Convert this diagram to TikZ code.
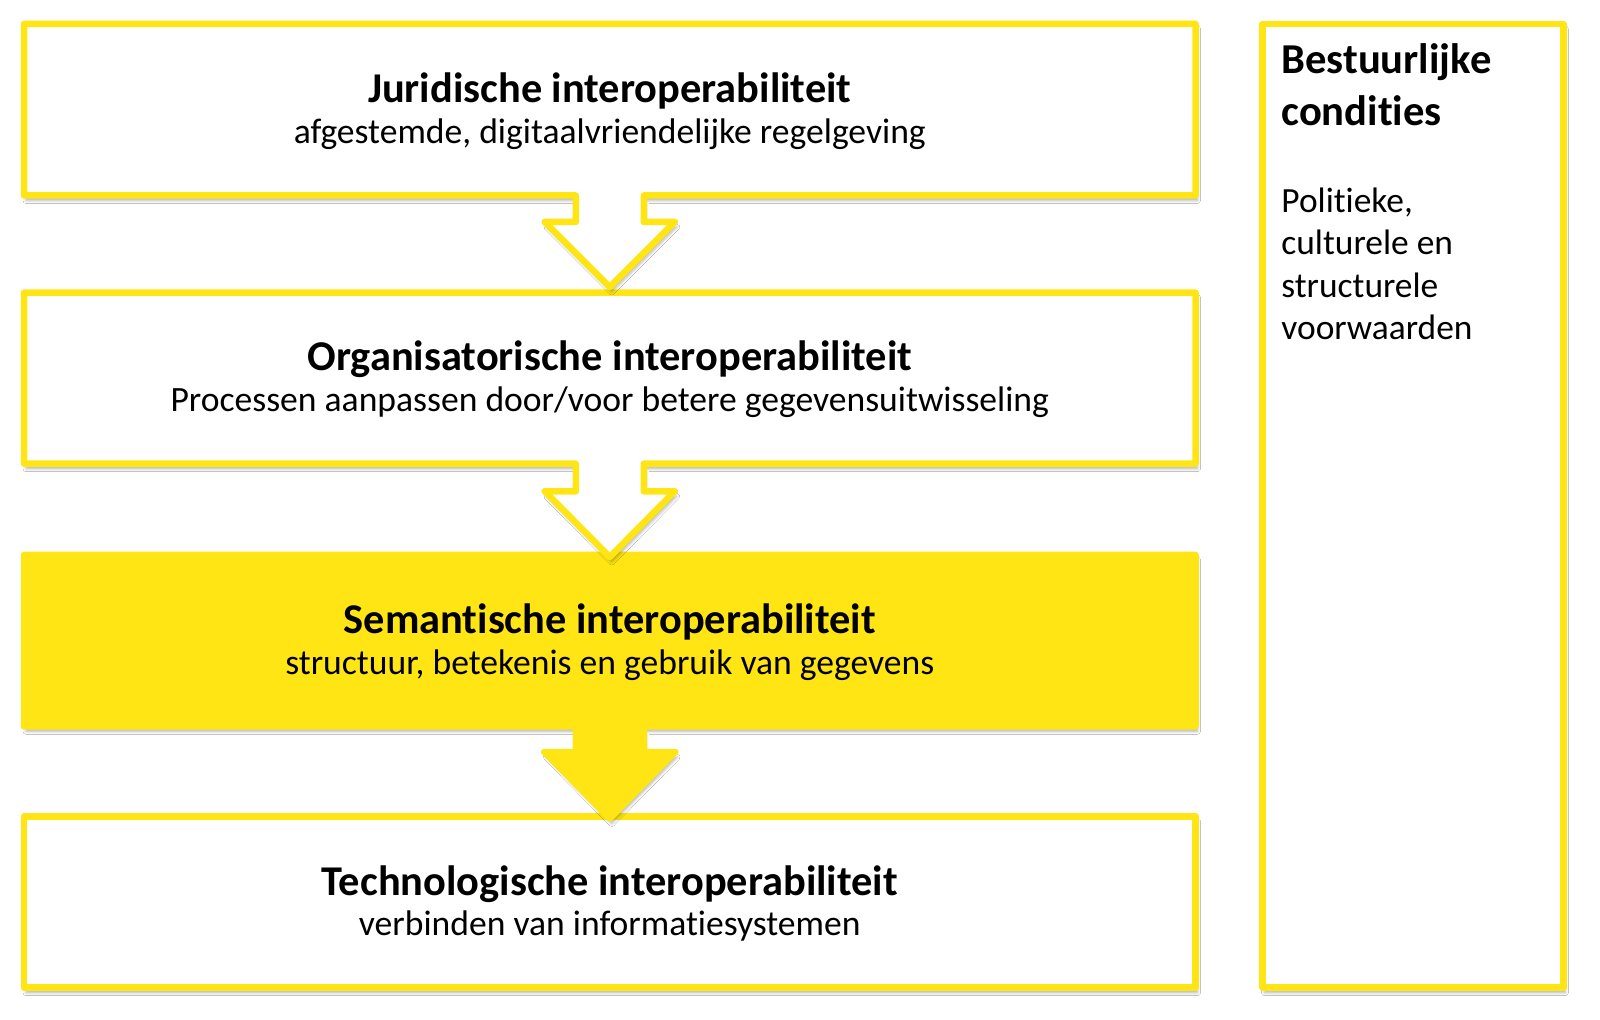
\documentclass[tikz,border=0pt]{standalone}
\usepackage{fontspec}
\setmainfont{Carlito}[Ligatures=NoCommon]
\usetikzlibrary{shadows,shadows.blur}
\definecolor{ryel}{HTML}{FFE514}
\tikzset{
  x=0.5pt, y=-0.5pt,
  tier/.style={draw=ryel, line width=3.25pt, line join=round, fill=white,
    blur shadow={shadow xshift=1pt, shadow yshift=-2.5pt, shadow blur radius=1.5pt, shadow opacity=30}},
  tierfill/.style={tier, fill=ryel},
  ttl/.style={inner sep=0pt, anchor=base, font=\fontsize{21.2}{25}\selectfont\bfseries},
  sub/.style={inner sep=0pt, anchor=base, font=\fontsize{17.8}{22}\selectfont},
}
\begin{document}
\begin{tikzpicture}
\useasboundingbox[fill=white] (0,0) rectangle (1600,1020);
% tier 4
\path[tier] (24,816.3) -- (1195.5,816.3) -- (1195.5,987.7) -- (24,987.7) -- cycle;
% tier 3 with filled arrow
\path[tierfill] (24,555) -- (1195.5,555) -- (1195.5,726.3) -- (643.75,726.3) -- (643.75,752) -- (675.25,752) -- (609.75,818.5) -- (544.25,752) -- (575.75,752) -- (575.75,726.3) -- (24,726.3) -- cycle;
% tier 2 with outlined arrow
\path[tier] (24,292.7) -- (1195.5,292.7) -- (1195.5,463.7) -- (643.75,463.7) -- (643.75,491.3) -- (674.75,491.3) -- (609.75,557) -- (544.75,491.3) -- (575.75,491.3) -- (575.75,463.7) -- (24,463.7) -- cycle;
% tier 1 with outlined arrow
\path[tier] (24,24) -- (1195.5,24) -- (1195.5,195.5) -- (643.75,195.5) -- (643.75,222) -- (674.75,222) -- (609.75,287) -- (544.75,222) -- (575.75,222) -- (575.75,195.5) -- (24,195.5) -- cycle;
% right box
\path[tier] (1262.5,24) -- (1563.3,24) -- (1563.3,987.7) -- (1262.5,987.7) -- cycle;

\node[ttl] (t1) at (609.75,103) {Juridische interoperabiliteit};
\node[sub] (s1) at (609.75,143.5) {afgestemde, digitaalvriendelijke regelgeving};
\node[ttl] (t2) at (609.75,371) {Organisatorische interoperabiliteit};
\node[sub] (s2) at (609.75,411.5) {Processen aanpassen door/voor betere gegevensuitwisseling};
\node[ttl] (t3) at (609.75,633.5) {Semantische interoperabiliteit};
\node[sub] (s3) at (609.75,674.2) {structuur, betekenis en gebruik van gegevens};
\node[ttl] (t4) at (609.75,895) {Technologische interoperabiliteit};
\node[sub] (s4) at (609.75,935.5) {verbinden van informatiesystemen};

\node[inner sep=0pt, anchor=base west] (rt) at (1281,73.5) {\parbox[t]{140pt}{\raggedright\fontsize{21.3}{25.85}\selectfont\bfseries Bestuurlijke\\condities}};
\node[inner sep=0pt, anchor=base west] (rb) at (1281,212.5) {\parbox[t]{140pt}{\raggedright\fontsize{17.7}{21.2}\selectfont Politieke,\\culturele en\\structurele\\voorwaarden}};
\end{tikzpicture}
\end{document}
